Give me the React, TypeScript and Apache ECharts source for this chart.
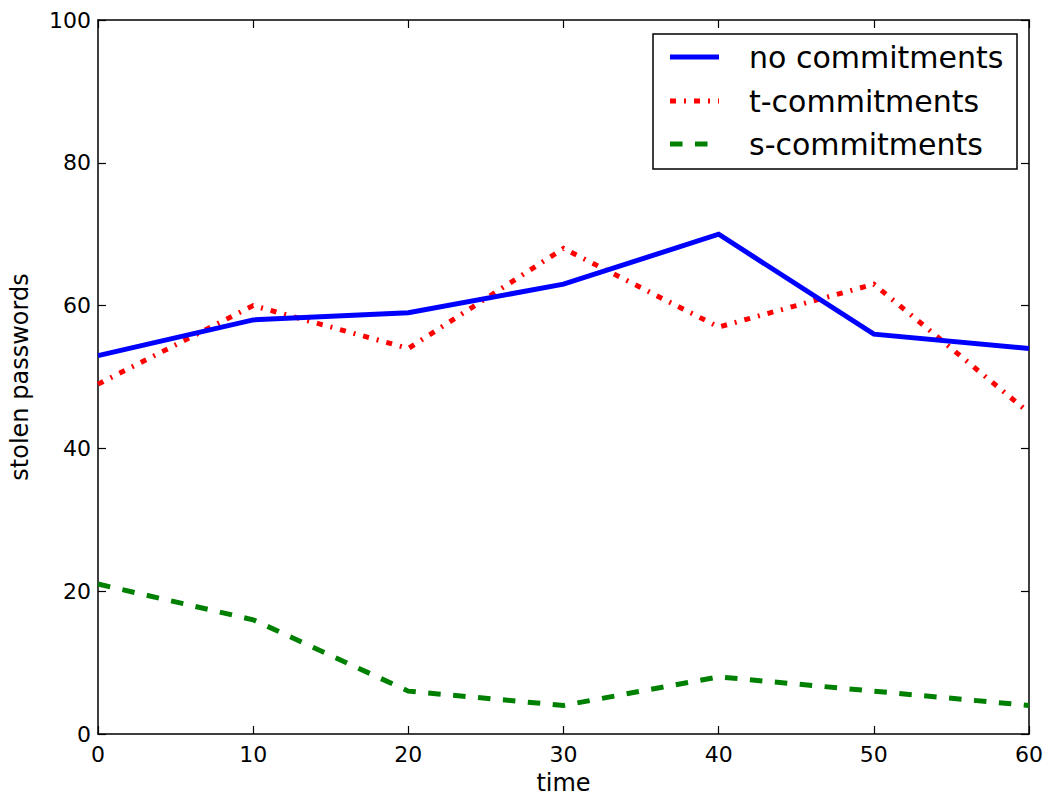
import React, { useEffect, useRef } from "react";
import * as echarts from "echarts";

const timeValues = [0, 10, 20, 30, 40, 50, 60];
const seriesNames = ["no commitments", "t-commitments", "s-commitments"];
const noCommitments = [53, 58, 59, 63, 70, 56, 54];
const tCommitments = [49, 60, 54, 68, 57, 63, 45];
const sCommitments = [21, 16, 6, 4, 8, 6, 4];
const xTicks = [0, 10, 20, 30, 40, 50, 60];
const yTicks = [0, 20, 40, 60, 80, 100];

const FONT = "DejaVu Sans";
const colors = ["#0000ff", "#ff0000", "#008000"];
const dashes: any[] = ["solid", [6, 8, 2, 8], [12.5, 12.5]];

export default function App() {
  const ref = useRef<HTMLDivElement>(null);
  useEffect(() => {
    if (!ref.current) return;
    const chart = echarts.init(ref.current, undefined, { renderer: "svg" });
    const values = [noCommitments, tCommitments, sCommitments];
    const tickStyle = { show: true, inside: true, length: 8, lineStyle: { color: "#000", width: 1.2 } };
    const lineStyle = { show: true, onZero: false, lineStyle: { color: "#000", width: 1.5 } };
    const label = { color: "#000", fontFamily: FONT, fontSize: 22 };
    const xBase = {
      type: "value" as const,
      min: xTicks[0],
      max: xTicks[xTicks.length - 1],
      interval: xTicks[1] - xTicks[0],
      splitLine: { show: false },
      axisLine: lineStyle,
      axisTick: tickStyle,
    };
    const yBase = {
      type: "value" as const,
      min: yTicks[0],
      max: yTicks[yTicks.length - 1],
      interval: yTicks[1] - yTicks[0],
      splitLine: { show: false },
      axisLine: lineStyle,
      axisTick: tickStyle,
    };

    // legend drawn as graphic
    const lgLeft = 653, lgTop = 34, lgW = 364, lgH = 135;
    const rowYs = [57, 101, 144];
    const legendChildren: any[] = [
      {
        type: "rect",
        shape: { x: lgLeft, y: lgTop, width: lgW, height: lgH },
        style: { fill: "#fff", stroke: "#000", lineWidth: 1.5 },
      },
    ];
    seriesNames.forEach((name, i) => {
      legendChildren.push({
        type: "line",
        shape: { x1: 670, y1: rowYs[i], x2: 719, y2: rowYs[i] },
        style: {
          stroke: colors[i],
          lineWidth: 5,
          lineDash: dashes[i] === "solid" ? null : dashes[i],
        },
      });
      legendChildren.push({
        type: "text",
        x: 749,
        y: rowYs[i],
        style: {
          text: name,
          fill: "#000",
          font: `30px '${FONT}'`,
          verticalAlign: "middle",
        },
      });
    });

    chart.setOption({
      animation: false,
      backgroundColor: "#fff",
      grid: { left: 97, right: 15, top: 20, bottom: 59, containLabel: false },
      xAxis: [
        {
          ...xBase,
          position: "bottom",
          name: "time",
          nameLocation: "middle",
          nameGap: 37,
          nameTextStyle: { color: "#000", fontFamily: FONT, fontSize: 24 },
          axisLabel: { ...label, margin: 9 },
        },
        { ...xBase, position: "top", axisLabel: { show: false } },
      ],
      yAxis: [
        {
          ...yBase,
          position: "left",
          name: "stolen passwords",
          nameLocation: "middle",
          nameGap: 66,
          nameTextStyle: { color: "#000", fontFamily: FONT, fontSize: 24 },
          axisLabel: { ...label, margin: 7 },
        },
        { ...yBase, position: "right", axisLabel: { show: false } },
      ],
      series: seriesNames.map((name, i) => ({
        name,
        type: "line",
        xAxisIndex: 0,
        yAxisIndex: 0,
        showSymbol: false,
        symbol: "none",
        data: timeValues.map((t, j) => [t, values[i][j]]),
        lineStyle: { color: colors[i], width: 5, type: dashes[i], cap: "butt", join: "miter" },
        itemStyle: { color: colors[i] },
        z: 3 + (2 - i),
      })),
      graphic: [{ type: "group", z: 100, children: legendChildren }],
    });
    return () => chart.dispose();
  }, []);
  return (
    <div
      ref={ref}
      style={{ position: "fixed", left: 0, top: 0, width: 1046, height: 800, background: "#fff" }}
    />
  );
}
